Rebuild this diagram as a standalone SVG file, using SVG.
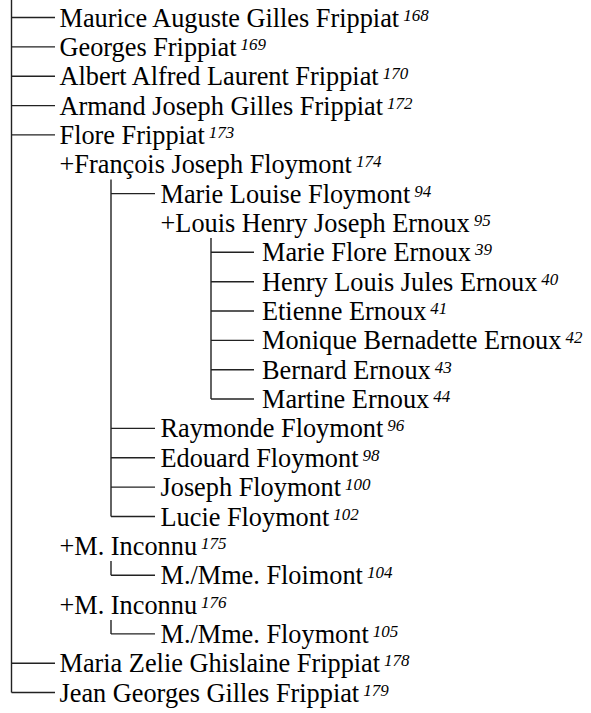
<svg xmlns="http://www.w3.org/2000/svg" width="591" height="713" viewBox="0 0 591 713">
<style>
text{font-family:"Liberation Serif","Times New Roman",Times,serif;font-size:26.3px;fill:#000}
.s{font-size:17px;font-style:italic}
.c line{stroke:#222;stroke-width:1.4}
</style>
<rect width="591" height="713" fill="#fff"/>
<g class="c" id="connectors">
<line x1="11.5" y1="0" x2="11.5" y2="692.5"/>
<line x1="11.5" y1="17.5" x2="55" y2="17.5"/>
<line x1="11.5" y1="46.9" x2="55" y2="46.9"/>
<line x1="11.5" y1="76.2" x2="55" y2="76.2"/>
<line x1="11.5" y1="105.6" x2="55" y2="105.6"/>
<line x1="11.5" y1="134.9" x2="55" y2="134.9"/>
<line x1="11.5" y1="663.2" x2="55" y2="663.2"/>
<line x1="11.5" y1="692.5" x2="55" y2="692.5"/>
<line x1="111" y1="179.5" x2="111" y2="516.5"/>
<line x1="111" y1="193.6" x2="155" y2="193.6"/>
<line x1="111" y1="428.4" x2="155" y2="428.4"/>
<line x1="111" y1="457.8" x2="155" y2="457.8"/>
<line x1="111" y1="487.1" x2="155" y2="487.1"/>
<line x1="111" y1="516.5" x2="155" y2="516.5"/>
<line x1="211" y1="238" x2="211" y2="399"/>
<line x1="211" y1="252.3" x2="254" y2="252.3"/>
<line x1="211" y1="281.7" x2="254" y2="281.7"/>
<line x1="211" y1="311" x2="254" y2="311"/>
<line x1="211" y1="340.4" x2="254" y2="340.4"/>
<line x1="211" y1="369.7" x2="254" y2="369.7"/>
<line x1="211" y1="399" x2="254" y2="399"/>
<line x1="111" y1="561" x2="111" y2="575.2"/>
<line x1="111" y1="575.2" x2="155" y2="575.2"/>
<line x1="111" y1="620" x2="111" y2="633.9"/>
<line x1="111" y1="633.9" x2="155" y2="633.9"/>
</g>
<g id="n168"><text x="59.5" y="26.5">Maurice Auguste Gilles Frippiat<tspan class="s" dx="4" dy="-6">168</tspan></text></g>
<g id="n169"><text x="59.5" y="55.9">Georges Frippiat<tspan class="s" dx="4" dy="-6">169</tspan></text></g>
<g id="n170"><text x="59.5" y="85.2">Albert Alfred Laurent Frippiat<tspan class="s" dx="4" dy="-6">170</tspan></text></g>
<g id="n172"><text x="59.5" y="114.6">Armand Joseph Gilles Frippiat<tspan class="s" dx="4" dy="-6">172</tspan></text></g>
<g id="n173"><text x="59.5" y="143.9">Flore Frippiat<tspan class="s" dx="4" dy="-6">173</tspan></text></g>
<g id="n174"><text x="59.5" y="173.3">+François Joseph Floymont<tspan class="s" dx="4" dy="-6">174</tspan></text></g>
<g id="n94"><text x="160.5" y="202.6">Marie Louise Floymont<tspan class="s" dx="4" dy="-6">94</tspan></text></g>
<g id="n95"><text x="160.5" y="232">+Louis Henry Joseph Ernoux<tspan class="s" dx="4" dy="-6">95</tspan></text></g>
<g id="n39"><text x="262" y="261.3">Marie Flore Ernoux<tspan class="s" dx="4" dy="-6">39</tspan></text></g>
<g id="n40"><text x="262" y="290.7">Henry Louis Jules Ernoux<tspan class="s" dx="4" dy="-6">40</tspan></text></g>
<g id="n41"><text x="262" y="320">Etienne Ernoux<tspan class="s" dx="4" dy="-6">41</tspan></text></g>
<g id="n42"><text x="262" y="349.4">Monique Bernadette Ernoux<tspan class="s" dx="4" dy="-6">42</tspan></text></g>
<g id="n43"><text x="262" y="378.7">Bernard Ernoux<tspan class="s" dx="4" dy="-6">43</tspan></text></g>
<g id="n44"><text x="262" y="408.1">Martine Ernoux<tspan class="s" dx="4" dy="-6">44</tspan></text></g>
<g id="n96"><text x="160.5" y="437.4">Raymonde Floymont<tspan class="s" dx="4" dy="-6">96</tspan></text></g>
<g id="n98"><text x="160.5" y="466.8">Edouard Floymont<tspan class="s" dx="4" dy="-6">98</tspan></text></g>
<g id="n100"><text x="160.5" y="496.1">Joseph Floymont<tspan class="s" dx="4" dy="-6">100</tspan></text></g>
<g id="n102"><text x="160.5" y="525.5">Lucie Floymont<tspan class="s" dx="4" dy="-6">102</tspan></text></g>
<g id="n175"><text x="59.5" y="554.8">+M. Inconnu<tspan class="s" dx="4" dy="-6">175</tspan></text></g>
<g id="n104"><text x="160.5" y="584.2">M./Mme. Floimont<tspan class="s" dx="4" dy="-6">104</tspan></text></g>
<g id="n176"><text x="59.5" y="613.5">+M. Inconnu<tspan class="s" dx="4" dy="-6">176</tspan></text></g>
<g id="n105"><text x="160.5" y="642.9">M./Mme. Floymont<tspan class="s" dx="4" dy="-6">105</tspan></text></g>
<g id="n178"><text x="59.5" y="672.2">Maria Zelie Ghislaine Frippiat<tspan class="s" dx="4" dy="-6">178</tspan></text></g>
<g id="n179"><text x="59.5" y="701.5">Jean Georges Gilles Frippiat<tspan class="s" dx="4" dy="-6">179</tspan></text></g>
</svg>
